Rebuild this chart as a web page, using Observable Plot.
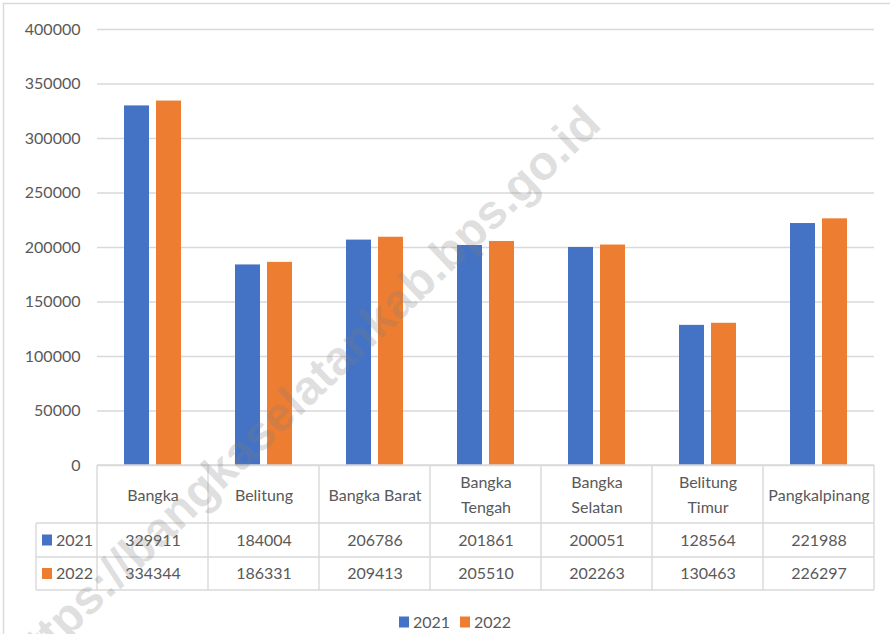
<!DOCTYPE html>
<html>
<head>
<meta charset="utf-8">
<script src="https://cdn.jsdelivr.net/npm/d3@7"></script>
<script src="https://cdn.jsdelivr.net/npm/@observablehq/plot@0.6"></script>
<style>
  html, body { margin: 0; padding: 0; background: #fff; }
  #chart { width: 890px; height: 634px; overflow: hidden; }
</style>
</head>
<body>
<div id="chart"></div>
<script>
const categories = ["Bangka", "Belitung", "Bangka Barat", "Bangka Tengah", "Bangka Selatan", "Belitung Timur", "Pangkalpinang"];
const categoryLabels = ["Bangka", "Belitung", "Bangka Barat", "Bangka\nTengah", "Bangka\nSelatan", "Belitung\nTimur", "Pangkalpinang"];
const years = ["2021", "2022"];
const values2021 = [329911, 184004, 206786, 201861, 200051, 128564, 221988];
const values2022 = [334344, 186331, 209413, 205510, 202263, 130463, 226297];
const yTicks = [0, 50000, 100000, 150000, 200000, 250000, 300000, 350000, 400000];
const colors = ["#4472C4", "#ED7D31"];
const watermark = "https://bangkaselatankab.bps.go.id";

const seriesValues = [values2021, values2022];
const data = [];
years.forEach((yr, j) => categories.forEach((c, i) => data.push({cat: c, year: yr, value: seriesValues[j][i]})));

const FONT = "Lato, 'Noto Sans', sans-serif";
const TEXT = "#595959";
const LINE = "#d9d9d9";

const chart = Plot.plot({
  width: 890,
  height: 634,
  marginLeft: 96,
  marginRight: 15,
  marginTop: 29,
  marginBottom: 169,
  style: {fontFamily: FONT, fontSize: "16px", color: TEXT, background: "#fff"},
  fx: {domain: categories, padding: 0, axis: null},
  x: {domain: years, paddingInner: 0.208, paddingOuter: 0.832, axis: null},
  y: {domain: [0, 400000]},
  color: {domain: years, range: colors},
  marks: [
    Plot.gridY(yTicks, {stroke: LINE, strokeOpacity: 1, strokeWidth: 1.4}),
    Plot.axisY(yTicks, {tickSize: 0, tickPadding: 17, tickFormat: d3.format("d"), fontSize: 16, fill: TEXT, label: null}),
    Plot.barY(data, {fx: "cat", x: "year", y: "value", fill: "year"}),
    Plot.text(categories, {fx: d => d, text: (d, i) => categoryLabels[i], frameAnchor: "bottom", lineAnchor: "middle", dy: 27, lineHeight: 1.6, fontSize: 16, fill: TEXT}),
    Plot.text(categories, {fx: d => d, text: (d, i) => String(values2021[i]), frameAnchor: "bottom", lineAnchor: "middle", dy: 75, fontSize: 16, fill: TEXT}),
    Plot.text(categories, {fx: d => d, text: (d, i) => String(values2022[i]), frameAnchor: "bottom", lineAnchor: "middle", dy: 108.5, fontSize: 16, fill: TEXT})
  ]
});

document.getElementById("chart").appendChild(chart);

// Table grid, row keys, legend, watermark and border, positioned from the plot's scales
const svg = d3.select(chart);
const fx = chart.scale("fx");
const y = chart.scale("y");
const xLeft = fx.apply(categories[0]);
const xRight = fx.apply(categories[categories.length - 1]) + fx.bandwidth;
const y0 = y.apply(0);
const rowBottoms = [y0 + 58, y0 + 92, y0 + 125];
const keyLeft = 36;

const g = svg.append("g").attr("stroke", LINE).attr("stroke-width", 1.4).attr("fill", "none");
g.append("line").attr("x1", xLeft).attr("x2", xRight).attr("y1", y0).attr("y2", y0);
rowBottoms.forEach(yy => g.append("line").attr("x1", keyLeft).attr("x2", xRight).attr("y1", yy).attr("y2", yy));
categories.forEach(c => {
  const xx = fx.apply(c);
  g.append("line").attr("x1", xx).attr("x2", xx).attr("y1", y0).attr("y2", rowBottoms[2]);
});
g.append("line").attr("x1", xRight).attr("x2", xRight).attr("y1", y0).attr("y2", rowBottoms[2]);
g.append("line").attr("x1", keyLeft).attr("x2", keyLeft).attr("y1", rowBottoms[0]).attr("y2", rowBottoms[2]);

// row keys
years.forEach((yr, j) => {
  const top = rowBottoms[j], bot = rowBottoms[j + 1];
  const cy = (top + bot) / 2;
  svg.append("rect").attr("x", keyLeft + 6).attr("y", cy - 5.5).attr("width", 10).attr("height", 11).attr("fill", colors[j]);
  svg.append("text").attr("x", keyLeft + 20).attr("y", cy).attr("dy", "0.35em").attr("text-anchor", "start")
    .attr("font-family", FONT).attr("font-size", 16).attr("fill", TEXT).text(yr);
});

// legend
const legendY = 622;
const legendItems = [{x: 399}, {x: 460}];
years.forEach((yr, j) => {
  const lx = legendItems[j].x;
  svg.append("rect").attr("x", lx).attr("y", legendY - 5.5).attr("width", 10).attr("height", 11).attr("fill", colors[j]);
  svg.append("text").attr("x", lx + 14).attr("y", legendY).attr("dy", "0.35em").attr("text-anchor", "start")
    .attr("font-family", FONT).attr("font-size", 16).attr("fill", TEXT).text(yr);
});

// watermark
svg.append("text")
  .attr("transform", "translate(313,404) rotate(-43.7)")
  .attr("text-anchor", "middle")
  .attr("font-family", "'Liberation Sans', Arial, sans-serif")
  .attr("font-weight", "bold")
  .attr("font-size", 48)
  .attr("fill", "#7f7f7f")
  .attr("fill-opacity", 0.25)
  .text(watermark);

// outer border
svg.append("rect").attr("x", 3.5).attr("y", 3.5).attr("width", 920).attr("height", 700)
  .attr("fill", "none").attr("stroke", LINE).attr("stroke-width", 1.4);
</script>
</body>
</html>
